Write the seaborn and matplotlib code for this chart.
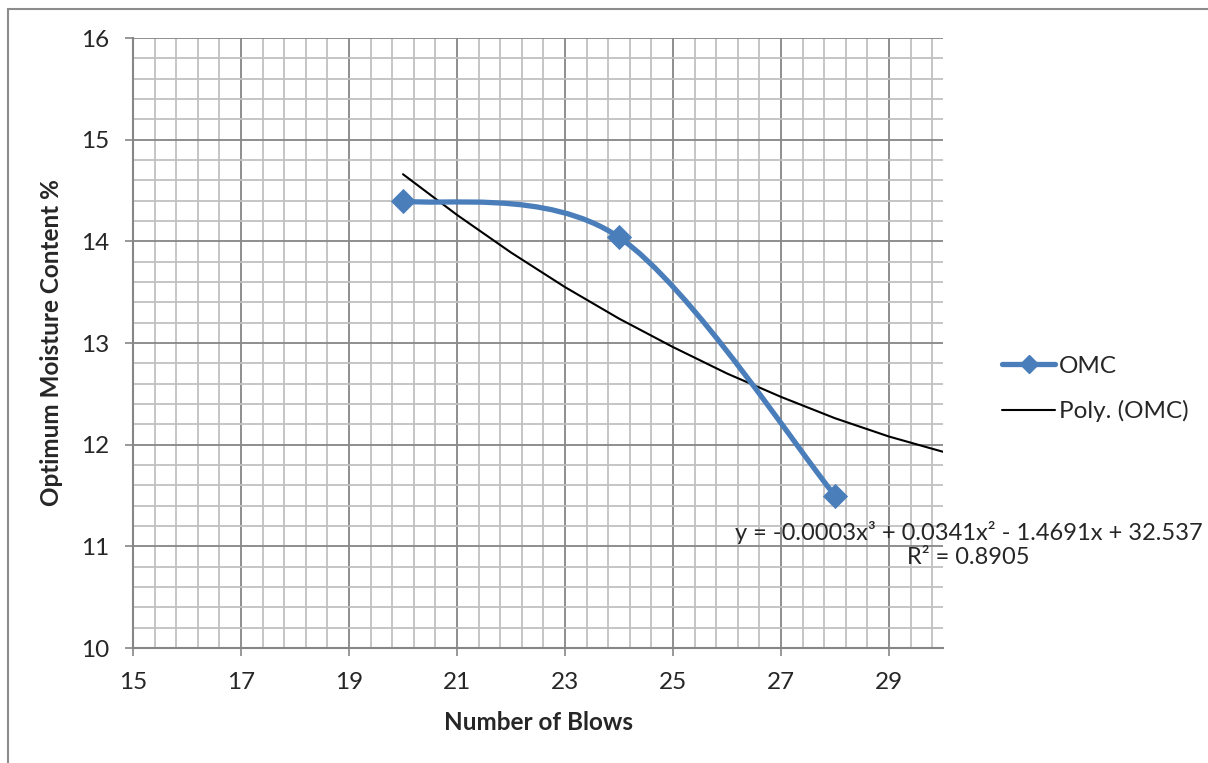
import numpy as np
import pandas as pd
import matplotlib
matplotlib.use("Agg")
import matplotlib.pyplot as plt
from matplotlib.path import Path
from matplotlib.patches import PathPatch, Rectangle
from matplotlib.lines import Line2D
from matplotlib.ticker import FixedLocator
import seaborn as sns

# ---- data ----
blows = [20, 24, 28]
omc = [14.4, 14.04, 11.5]
trend_x = [20, 21, 22, 23, 24, 25, 26, 27, 28, 29, 30]
trend_y = [14.66, 14.26, 13.89, 13.55, 13.24, 12.96, 12.70, 12.47, 12.26, 12.08, 11.93]
x_ticks = [15, 17, 19, 21, 23, 25, 27, 29]
y_ticks = [10, 11, 12, 13, 14, 15, 16]
series_label = "OMC"
trend_label = "Poly. (OMC)"
equation = "y = -0.0003x³ + 0.0341x² - 1.4691x + 32.537\nR² = 0.8905"

sns.set_theme(style="white")
plt.rcParams['font.family'] = ['Lato', 'DejaVu Sans']

FS = 17.5
blue = "#4a7ebb"
major_c = "#868686"
minor_c = "#c0c0c0"

fig = plt.figure(figsize=(12.08, 7.63), dpi=100)
ax = fig.add_axes([133/1208, 1 - 648/763, (943-133)/1208, (648-38)/763])

# grid
ax.set_xlim(15, 30)
ax.set_ylim(10, 16)
ax.xaxis.set_major_locator(FixedLocator(x_ticks))
ax.yaxis.set_major_locator(FixedLocator(y_ticks))
ax.xaxis.set_minor_locator(FixedLocator(np.arange(15, 30.01, 0.4)))
ax.yaxis.set_minor_locator(FixedLocator(np.arange(10, 16.01, 0.2)))
ax.grid(which="minor", color=minor_c, lw=1.3, zorder=0)
ax.grid(which="major", color=major_c, lw=1.3, zorder=0)
ax.set_axisbelow(True)
ax.tick_params(which="major", length=6, width=1.2, color=major_c,
               labelsize=FS, pad=11, bottom=True, left=True)
ax.tick_params(which="minor", length=0)
for s in ["top", "right"]:
    ax.spines[s].set_visible(False)
for s in ["left", "bottom"]:
    ax.spines[s].set_color(major_c)
    ax.spines[s].set_linewidth(1.5)

# trend line
tdf = pd.DataFrame({"x": trend_x, "y": trend_y})
sns.lineplot(data=tdf, x="x", y="y", ax=ax, color="black", lw=1.5, zorder=3,
             legend=False)

# smoothed OMC line (Catmull-Rom style Bezier like spreadsheet smoothing)
pts = np.column_stack([blows, omc]).astype(float)
ext = np.vstack([pts[0], pts, pts[-1]])
verts = [tuple(pts[0])]
codes = [Path.MOVETO]
for i in range(len(pts) - 1):
    p0, p1, p2, p3 = ext[i], ext[i + 1], ext[i + 2], ext[i + 3]
    c1 = p1 + (p2 - p0) / 6.0
    c2 = p2 - (p3 - p1) / 6.0
    verts += [tuple(c1), tuple(c2), tuple(p2)]
    codes += [Path.CURVE4] * 3
ax.add_patch(PathPatch(Path(verts, codes), fill=False, edgecolor=blue, lw=3.8,
                       capstyle="round", joinstyle="round", zorder=4))
odf = pd.DataFrame({"x": blows, "y": omc})
sns.scatterplot(data=odf, x="x", y="y", ax=ax, marker="D", s=165, color=blue,
                edgecolor=blue, linewidth=0, zorder=5, legend=False)

ax.set_xlabel("Number of Blows", fontsize=FS, fontweight="bold", labelpad=13)
ax.set_ylabel("Optimum Moisture Content %", fontsize=FS, fontweight="bold", labelpad=13)

# equation label
ax.text(30.47, 11.02, equation, fontsize=17, ha="center", va="center",
        multialignment="center", clip_on=False, zorder=6, linespacing=1.2)

# legend
handles = [Line2D([0], [0], color=blue, lw=3.8, marker="D", markersize=9,
                  solid_capstyle="round"),
           Line2D([0], [0], color="black", lw=1.5)]
fig.legend(handles, [series_label, trend_label], loc="center left",
           bbox_to_anchor=(980/1208, 1 - 389/763), frameon=False, fontsize=FS,
           handlelength=2.2, handletextpad=0.15, labelspacing=0.95)

# chart border
fig.patches.append(Rectangle((8/1208, -0.1), 1.2, 1 - 9/763 + 0.1,
                             transform=fig.transFigure, fill=False,
                             edgecolor="#8c8c8c", lw=1.5))

fig.savefig("out.png", dpi=100)
